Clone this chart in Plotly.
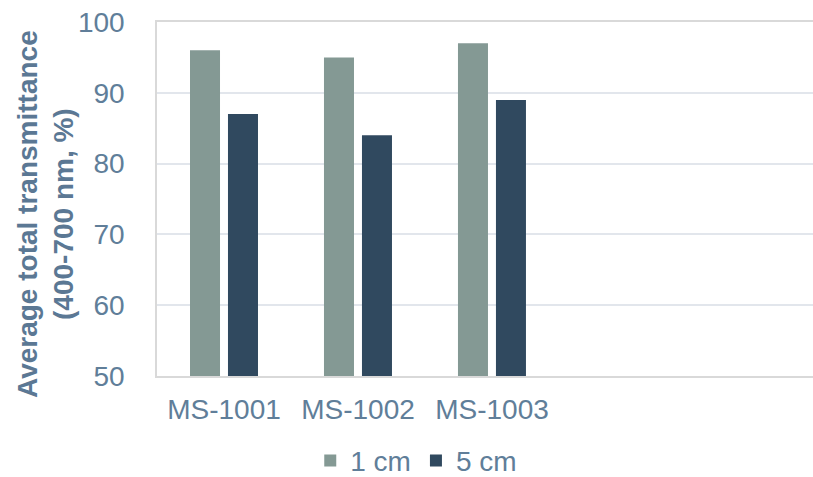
import plotly.graph_objects as go

categories = ["MS-1001", "MS-1002", "MS-1003"]
series_names = ["1 cm", "5 cm"]
values_1cm = [96, 95, 97]
values_5cm = [87, 84, 89]
y_ticks = [50, 60, 70, 80, 90, 100]

text_color = "#607E99"
font_family = "Liberation Sans, Arial, sans-serif"
fs = 28

fig = go.Figure()
fig.add_trace(go.Bar(name=series_names[0], x=categories, y=values_1cm,
                     marker=dict(color="#849994", line=dict(width=0))))
fig.add_trace(go.Bar(name=series_names[1], x=categories, y=values_5cm,
                     marker=dict(color="#30495F", line=dict(width=0))))

fig.update_layout(
    width=813, height=477,
    margin=dict(l=157, r=0, t=22, b=101, autoexpand=False),
    paper_bgcolor="white", plot_bgcolor="white",
    barmode="group", bargap=0.433, bargroupgap=0.21,
    font=dict(family=font_family, size=fs, color=text_color),
    showlegend=True,
    legend=dict(orientation="h", xref="container", yref="container",
                x=0.512, xanchor="center", y=0.034, yanchor="middle",
                font=dict(size=fs, color=text_color), itemwidth=30,
                bgcolor="rgba(0,0,0,0)"),
    annotations=[dict(
        text="<b>Average total transmittance<br>(400-700 nm, %)</b>",
        xref="paper", yref="paper", x=-0.1707, y=0.4576,
        xanchor="center", yanchor="middle", textangle=-90, showarrow=False,
        font=dict(family=font_family, size=fs, color="#5B7894"))],
)

fig.update_xaxes(
    type="category", range=[-0.5, 4.396], automargin=False,
    showgrid=False, showline=True, linecolor="#D9D9D9", linewidth=1.5, mirror=True,
    ticks="", ticklabelstandoff=8,
    tickfont=dict(size=fs, color=text_color),
)
fig.update_yaxes(
    range=[50, 100], tickvals=y_ticks, ticktext=[str(v) for v in y_ticks],
    automargin=False,
    showgrid=True, gridcolor="#E2E6EC", gridwidth=1.5,
    showline=True, linecolor="#D9D9D9", linewidth=1.5,
    zeroline=False, ticks="", ticklabelstandoff=25,
    tickfont=dict(size=fs, color=text_color),
)

fig.write_html("out.html")
